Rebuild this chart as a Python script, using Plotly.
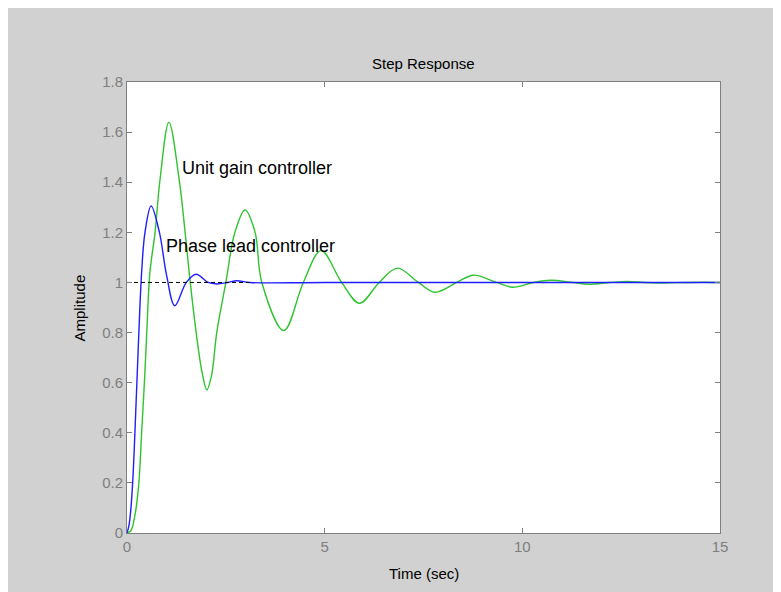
"""
Step response of the closed loop: unit gain controller vs phase lead controller.
"""

import plotly.graph_objects as go

# Phase lead controller (blue)
lead_t = [0, 0.05, 0.1, 0.15, 0.2, 0.25, 0.3, 0.37, 0.455, 0.61, 0.82, 1.0, 1.21,
          1.5, 1.75, 2.05, 2.27, 2.55, 2.78, 3.1, 5, 10, 15]
lead_y = [0, 0.03, 0.1, 0.22, 0.4, 0.6, 0.8, 1.04, 1.2, 1.305, 1.2, 1.03, 0.907,
          1.0, 1.033, 1.0, 0.994, 1.0, 1.007, 1.0, 1.0, 1.0, 1.0]

# Unit gain controller (green)
unit_t = [0, 0.1, 0.2, 0.3, 0.37, 0.44, 0.5, 0.58, 0.71, 0.835, 1.06, 1.32, 1.47,
          1.6, 1.75, 1.9, 2.02, 2.14, 2.27, 2.5, 2.73, 2.985, 3.24, 3.41, 3.97,
          4.46, 4.91, 5.43, 5.88, 6.38, 6.84, 7.37, 7.79, 8.34, 8.76, 9.35, 9.75,
          10.28, 10.7, 11.28, 11.67, 12.22, 12.64, 13.1, 13.6, 14.1, 14.6, 15]
unit_y = [0, 0.01, 0.07, 0.2, 0.4, 0.6, 0.8, 1.04, 1.2, 1.41, 1.64, 1.41, 1.2,
          1.0, 0.8, 0.64, 0.571, 0.63, 0.8, 1.0, 1.2, 1.289, 1.2, 1.0, 0.808,
          1.0, 1.127, 1.0, 0.917, 1.0, 1.057, 1.0, 0.961, 1.0, 1.029, 1.0, 0.981,
          1.0, 1.009, 1.0, 0.993, 1.0, 1.004, 1.0, 0.998, 1.0, 1.001, 1.0]

# steady state reference line
ref_t = [0, 3.1]
ref_y = [1, 1]

x_ticks = [0, 5, 10, 15]
y_ticks = [0, 0.2, 0.4, 0.6, 0.8, 1, 1.2, 1.4, 1.6, 1.8]
y_tick_text = ["0", "0.2", "0.4", "0.6", "0.8", "1", "1.2", "1.4", "1.6", "1.8"]

FONT = "Liberation Sans, Arial, sans-serif"
AXIS_GREY = "#7f7f7f"
FIG_GREY = "#d1d1d1"

fig = go.Figure()

fig.add_trace(go.Scatter(x=unit_t, y=unit_y, mode="lines",
                         line=dict(color="#2ec42e", width=1.4, shape="spline"),
                         name="Unit gain controller"))
fig.add_trace(go.Scatter(x=lead_t, y=lead_y, mode="lines",
                         line=dict(color="#1f1fff", width=1.4, shape="spline"),
                         name="Phase lead controller"))
fig.add_trace(go.Scatter(x=ref_t, y=ref_y, mode="lines",
                         line=dict(color="black", width=1, dash="4px,3px"),
                         name="ref"))

fig.add_annotation(text="Step Response", xref="paper", yref="paper",
                   x=0.5, y=1.04, showarrow=False, yanchor="middle",
                   font=dict(size=15, color="black", family=FONT))
fig.add_annotation(text="Time (sec)", xref="paper", yref="paper",
                   x=0.5, y=-0.0887, showarrow=False, yanchor="middle",
                   font=dict(size=15, color="black", family=FONT))
fig.add_annotation(text="Amplitude", xref="paper", yref="paper",
                   x=-0.0793, y=0.5, showarrow=False, textangle=-90,
                   xanchor="center", yanchor="middle",
                   font=dict(size=15, color="black", family=FONT))

fig.add_annotation(text="Unit gain controller", x=1.34, y=1.457,
                   showarrow=False, xanchor="left", yanchor="middle",
                   font=dict(size=18, color="black", family=FONT))
fig.add_annotation(text="Phase lead controller", x=0.94, y=1.146,
                   showarrow=False, xanchor="left", yanchor="middle",
                   font=dict(size=18, color="black", family=FONT))

axis_common = dict(showline=True, linecolor=AXIS_GREY, linewidth=1, mirror="ticks",
                   ticks="inside", ticklen=5, tickcolor=AXIS_GREY,
                   showgrid=False, zeroline=False,
                   tickfont=dict(size=15, color=AXIS_GREY, family=FONT))

fig.update_xaxes(range=[0, 15], tickvals=x_ticks, **axis_common)
fig.update_yaxes(range=[0, 1.8], tickvals=y_ticks, ticktext=y_tick_text, **axis_common)

# page body margin puts the figure 8px in, so the plot box lands at 127..720, 82..533
fig.update_layout(
    width=781, height=592,
    margin=dict(l=119, r=69, t=74, b=67),
    paper_bgcolor=FIG_GREY,
    plot_bgcolor="white",
    showlegend=False,
    font=dict(family=FONT, size=15, color="black"),
)

fig.write_html("out.html")
